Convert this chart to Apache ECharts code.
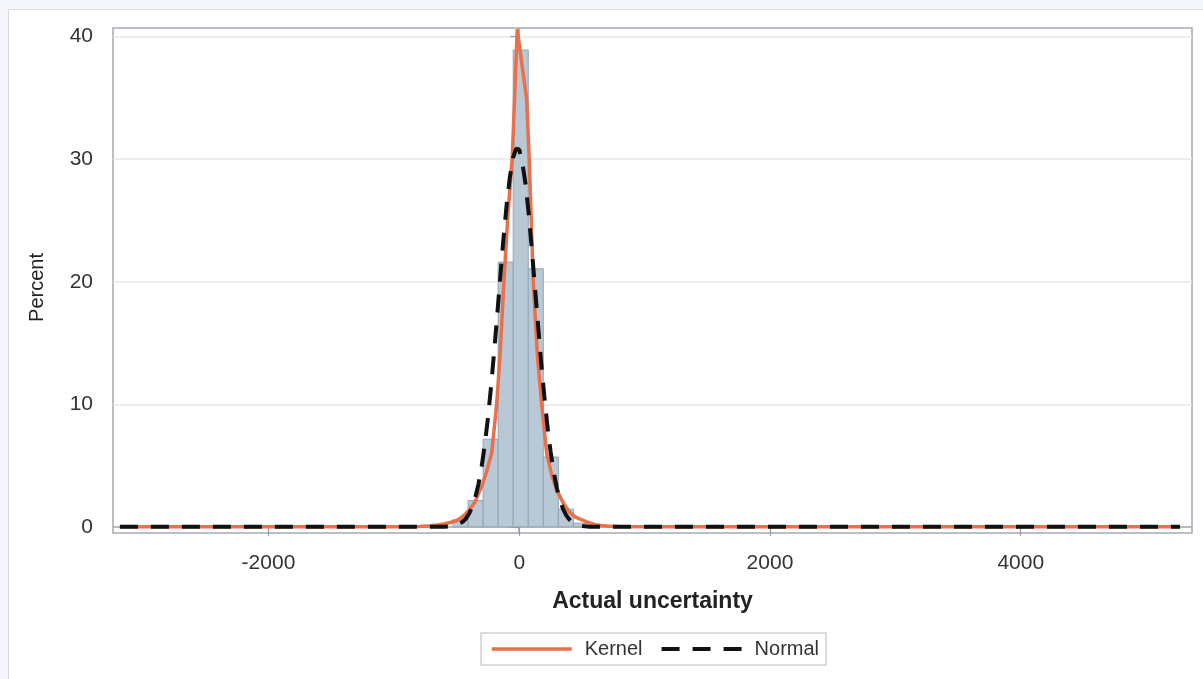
<!DOCTYPE html>
<html>
<head>
<meta charset="utf-8">
<script src="https://cdn.jsdelivr.net/npm/echarts@6/dist/echarts.min.js"></script>
<style>
  html, body { margin: 0; padding: 0; background: #f6f7fc; overflow: hidden; }
  #panel { position: absolute; left: 8px; top: 9px; width: 1300px; height: 800px;
           background: #ffffff; border: 1.5px solid #d8d9de; }
  #chart { position: absolute; left: 0; top: 0; width: 1203px; height: 679px; }
</style>
</head>
<body>
<div id="panel"></div>
<div id="chart"></div>
<script>
// Histogram bins (lower edge, upper edge, percent of observations)
const binStart   = [-528, -408, -288, -168, -48, 72, 192, 312, 432];
const binEnd     = [-408, -288, -168, -48, 72, 192, 312, 432, 552];
const binPercent = [0.6, 2.15, 7.15, 21.6, 38.9, 21.05, 5.7, 1.45, 0.3];

// Kernel density estimate, scaled to percent per bin
const kernelX = [-3185, -1500, -1000, -800, -700, -650, -600, -550, -500, -450, -400, -354, -300, -260, -220, -180, -150, -122, -90, -56, -16,
                 59, 80, 112, 145, 179, 219, 260, 300, 351, 400, 450, 538, 600, 650, 700, 800, 1000, 1500, 5270];
const kernelY = [0, 0, 0.01, 0.04, 0.1, 0.16, 0.24, 0.36, 0.5, 0.85, 1.35, 2.0, 3.3, 4.5, 6.0, 10.0, 14.5, 20.0, 25.5, 30.0, 40.6,
                 34.9, 30.0, 20.0, 14.0, 10.0, 6.0, 4.2, 3.0, 1.96, 1.2, 0.8, 0.4, 0.2, 0.12, 0.08, 0.03, 0.01, 0, 0];

// Fitted normal curve, scaled to percent per bin
const normalX = [-3185, -1000, -700, -600, -550, -500, -450, -425, -400, -375, -350, -325, -300, -275, -250, -225, -200, -175, -150, -125, -100, -75, -50, -25, -16,
                 0, 25, 50, 75, 100, 125, 150, 175, 200, 225, 250, 275, 300, 325, 350, 375, 400, 425, 450, 500, 550, 600, 700, 1000, 5270];
const normalY = [0, 0, 0, 0.01, 0.05, 0.15, 0.42, 0.68, 1.07, 1.63, 2.42, 3.49, 4.9, 6.68, 8.85, 11.4, 14.3, 17.35, 20.5, 23.6, 26.3, 28.5, 30.1, 30.85, 30.9,
                 30.8, 29.7, 28.0, 25.6, 22.7, 19.6, 16.5, 13.4, 10.7, 8.2, 6.15, 4.47, 3.16, 2.17, 1.45, 0.94, 0.6, 0.36, 0.22, 0.07, 0.02, 0.01, 0, 0, 0];

// Axis tick values
const xTicks = [-2000, 0, 2000, 4000];
const yTicks = [0, 10, 20, 30, 40];

const histData = binStart.map((s, i) => [s, binEnd[i], binPercent[i]]);
const kernelData = kernelX.map((x, i) => [x, kernelY[i]]);
const normalData = normalX.map((x, i) => [x, normalY[i]]);

const frameColor = '#a2aab2';
const font = '"Liberation Sans", Arial, sans-serif';
const plainNumber = v => String(v);

const chart = echarts.init(document.getElementById('chart'), null, { renderer: 'canvas' });
chart.setOption({
  backgroundColor: 'transparent',
  animation: false,
  grid: {
    left: 113, right: 11, top: 28, height: 505,
    show: true, borderColor: frameColor, borderWidth: 1.5, backgroundColor: 'transparent'
  },
  xAxis: {
    type: 'value',
    min: -3240, max: 5366,
    name: 'Actual uncertainty',
    nameLocation: 'middle',
    nameGap: 57,
    nameTextStyle: { fontFamily: font, fontSize: 23, fontWeight: 'bold', color: '#222' },
    axisLine: { show: true, lineStyle: { color: frameColor, width: 1.5 } },
    axisTick: { show: true, length: 9, customValues: xTicks, lineStyle: { color: '#9a9a9a', width: 1.2 } },
    axisLabel: { customValues: xTicks, formatter: plainNumber, margin: 20, fontFamily: font, fontSize: 21, color: '#333' },
    splitLine: { show: false }
  },
  yAxis: {
    type: 'value',
    min: -0.5, max: 40.7,
    name: 'Percent',
    nameLocation: 'middle',
    nameRotate: 90,
    nameGap: 66,
    nameTextStyle: { fontFamily: font, fontSize: 20, color: '#222', padding: [0, 14, 0, 0] },
    axisLine: { show: true, lineStyle: { color: frameColor, width: 1.5 } },
    axisTick: { show: true, length: 9, customValues: yTicks, lineStyle: { color: '#9a9a9a', width: 1.2 } },
    axisLabel: { customValues: yTicks, formatter: plainNumber, margin: 20, fontFamily: font, fontSize: 21, color: '#333' },
    splitLine: { show: true, lineStyle: { color: '#e6e6e8', width: 1.5 } }
  },
  legend: {
    data: ['Kernel', 'Normal'],
    left: 481, top: 633,
    orient: 'horizontal',
    borderColor: '#cfcfcf', borderWidth: 1.5,
    padding: [6, 7, 6, 9],
    itemWidth: 80, itemHeight: 14, itemGap: 17,
    itemStyle: { opacity: 0 },
    lineStyle: { width: 'inherit' },
    textStyle: { fontFamily: font, fontSize: 20, color: '#333', padding: [0, 0, 0, 8] }
  },
  series: [
    {
      name: 'Histogram',
      type: 'custom',
      data: histData,
      encode: { x: [0, 1], y: 2 },
      renderItem: function (params, api) {
        const topLeft = api.coord([api.value(0), api.value(2)]);
        const bottomRight = api.coord([api.value(1), 0]);
        return {
          type: 'rect',
          shape: { x: topLeft[0], y: topLeft[1], width: bottomRight[0] - topLeft[0], height: bottomRight[1] - topLeft[1] },
          style: { fill: '#b8c8d4', stroke: '#8fa6b8', lineWidth: 1 }
        };
      },
      z: 1
    },
    {
      name: 'Kernel',
      type: 'line',
      data: kernelData,
      symbol: 'none',
      smooth: false,
      lineStyle: { color: '#e8704b', width: 3.5 },
      itemStyle: { color: '#e8704b' },
      z: 2
    },
    {
      name: 'Normal',
      type: 'line',
      data: normalData,
      symbol: 'none',
      smooth: false,
      lineStyle: { color: '#111111', width: 4, type: [18, 13] },
      itemStyle: { color: '#111111' },
      z: 3
    }
  ]
});
</script>
</body>
</html>
